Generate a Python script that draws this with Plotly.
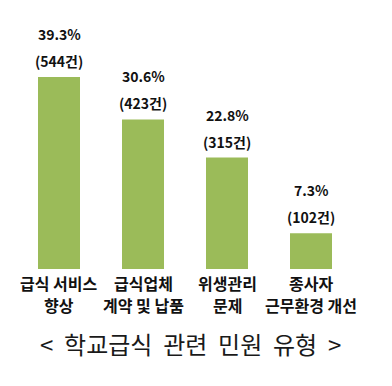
import plotly.graph_objects as go

categories = ["급식 서비스 향상", "급식업체 계약 및 납품", "위생관리 문제", "종사자 근무환경 개선"]
label_line1 = ["급식 서비스", "급식업체", "위생관리", "종사자"]
label_line2 = ["향상", "계약 및 납품", "문제", "근무환경 개선"]
percents = [39.3, 30.6, 22.8, 7.3]
counts = [544, 423, 315, 102]
title_text = "<\u00a0\u00a0학교급식\u00a0\u00a0관련\u00a0\u00a0민원\u00a0\u00a0유형\u00a0\u00a0>"

FONT = "Noto Sans CJK KR"
BAR_COLOR = "#9BBB59"

fig = go.Figure()
fig.add_trace(go.Bar(
    x=categories, y=percents, width=0.5,
    marker=dict(color=BAR_COLOR, line=dict(width=0)),
    hoverinfo="skip",
))

annotations = []
for cat, p, c, l1, l2 in zip(categories, percents, counts, label_line1, label_line2):
    annotations.append(dict(x=cat, y=p, xref="x", yref="y", text=f"<b>{p}%</b>",
                            showarrow=False, yanchor="middle", yshift=43,
                            font=dict(family=FONT, size=14, color="#111111")))
    annotations.append(dict(x=cat, y=p, xref="x", yref="y", text=f"<b>({c}건)</b>",
                            showarrow=False, yanchor="middle", yshift=16,
                            font=dict(family=FONT, size=14, color="#111111")))
    annotations.append(dict(x=cat, y=0, xref="x", yref="paper", text=f"<b>{l1}</b>",
                            showarrow=False, yanchor="middle", yshift=-14,
                            font=dict(family=FONT, size=16, color="#111111")))
    annotations.append(dict(x=cat, y=0, xref="x", yref="paper", text=f"<b>{l2}</b>",
                            showarrow=False, yanchor="middle", yshift=-36,
                            font=dict(family=FONT, size=16, color="#111111")))

annotations.append(dict(x=0.5, y=0, xref="paper", yref="paper", text=title_text,
                        showarrow=False, yanchor="middle", xanchor="center",
                        xshift=(190 - (17 + 353) / 2), yshift=-(343 - 269),
                        font=dict(family=FONT, size=24, color="#1a1a1a")))

fig.update_layout(
    width=392, height=386,
    margin=dict(l=17, r=39, t=10, b=117),
    paper_bgcolor="white", plot_bgcolor="white",
    showlegend=False,
    bargap=0.5,
    xaxis=dict(showticklabels=False, showgrid=False, zeroline=False, showline=False,
               range=[-0.5, 3.5]),
    yaxis=dict(showticklabels=False, showgrid=False, zeroline=False, showline=False,
               range=[0, 53]),
    annotations=annotations,
)

fig.write_html("out.html", config={"displayModeBar": False},
               post_script="document.body.style.margin='0';")
